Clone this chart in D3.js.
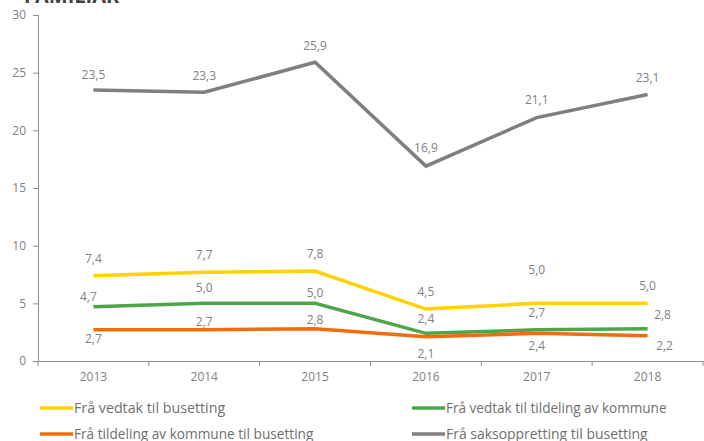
<!DOCTYPE html>
<html>
<head>
<meta charset="utf-8">
<script src="https://cdn.jsdelivr.net/npm/d3@7"></script>
<style>
  body { margin: 0; background: #fff; }
  svg text { font-family: "Open Sans", "DejaVu Sans", sans-serif; }
</style>
</head>
<body>
<div id="d3"></div>
<script>
// data
var years = ["2013", "2014", "2015", "2016", "2017", "2018"];
var seriesNames = [
  "Frå vedtak til busetting",
  "Frå vedtak til tildeling av kommune",
  "Frå tildeling av kommune til busetting",
  "Frå saksoppretting til busetting"
];
var vedtakBusetting = [7.4, 7.7, 7.8, 4.5, 5.0, 5.0];
var vedtakTildeling = [4.7, 5.0, 5.0, 2.4, 2.7, 2.8];
var tildelingBusetting = [2.7, 2.7, 2.8, 2.1, 2.4, 2.2];
var saksBusetting = [23.5, 23.3, 25.9, 16.9, 21.1, 23.1];
var yTicks = [0, 5, 10, 15, 20, 25, 30];

var colors = ["#ffd200", "#4ea54a", "#f26c0d", "#7f7f7f"];
// label placement per point [dx, dy] relative to the point
var labelOffsets = [
  [[0, -17], [0, -17], [0, -17], [0, -17], [0, -34], [0, -18]],
  [[-5, -10], [0, -16], [0, -11], [0, -15], [0, -17], [15, -14]],
  [[0, 9], [0, -8], [0, -9], [0, 17], [0, 12], [17, 10]],
  [[0, -15], [0, -16], [0, -16], [0, -18], [0, -18], [0, -17]]
];

var series = [vedtakBusetting, vedtakTildeling, tildelingBusetting, saksBusetting].map(function(vals, i) {
  return { name: seriesNames[i], values: vals, color: colors[i], offsets: labelOffsets[i] };
});

var svg_width = 704, svg_height = 441;
var svg = d3.select("#d3").append("svg")
  .attr("width", svg_width)
  .attr("height", svg_height);

var margin = {left: 38, right: 1, top: 15, bottom: 80};

var x = d3.scaleBand()
  .domain(years)
  .range([margin.left, svg_width - margin.right]);

var y = d3.scaleLinear()
  .domain([0, 30])
  .range([svg_height - margin.bottom, margin.top]);

var fmt = function(v) { return d3.format(".1f")(v).replace(".", ","); };
var axisColor = "#8c8c8c", textColor = "#7f7f7f";

// cut-off title
svg.append("text")
  .attr("x", 24)
  .attr("y", 3)
  .attr("font-size", "20px")
  .attr("font-weight", "bold")
  .attr("fill", "#404040")
  .text("FAMILIAR");

// y-axis
var yAxis = svg.append("g")
  .attr("transform", "translate(" + margin.left + ",0)")
  .call(d3.axisLeft(y).tickValues(yTicks).tickSize(5).tickPadding(7).tickFormat(d3.format("d")));
yAxis.select(".domain").attr("stroke", axisColor);
yAxis.selectAll(".tick line").attr("stroke", axisColor);
yAxis.selectAll(".tick text").attr("fill", textColor).attr("font-size", "12px");

// x-axis, ticks between categories
var xAxis = svg.append("g")
  .attr("transform", "translate(0," + y(0) + ")")
  .call(d3.axisBottom(x).tickSize(0).tickPadding(11).tickSizeOuter(0));
xAxis.select(".domain").attr("stroke", axisColor);
xAxis.selectAll(".tick text").attr("fill", textColor).attr("font-size", "12px");
var bounds = years.map(function(d) { return x(d); }).concat([x.range()[1]]);
xAxis.selectAll(".sep")
  .data(bounds)
  .enter().append("line")
  .attr("class", "sep")
  .attr("x1", function(d) { return d; })
  .attr("x2", function(d) { return d; })
  .attr("y1", 0)
  .attr("y2", 5)
  .attr("stroke", axisColor);

var cx = function(d, i) { return x(years[i]) + x.bandwidth() / 2; };
var line = d3.line()
  .x(cx)
  .y(function(d) { return y(d); });

// lines (gray drawn last)
var groups = svg.append("g").selectAll("g")
  .data(series)
  .enter().append("g");

groups.append("path")
  .attr("d", function(s) { return line(s.values); })
  .attr("fill", "none")
  .attr("stroke", function(s) { return s.color; })
  .attr("stroke-width", 3.5);

// value labels
groups.each(function(s) {
  d3.select(this).selectAll("text")
    .data(s.values)
    .enter().append("text")
    .attr("x", function(d, i) { return cx(d, i) + s.offsets[i][0]; })
    .attr("y", function(d, i) { return y(d) + s.offsets[i][1]; })
    .attr("dy", "0.35em")
    .attr("text-anchor", "middle")
    .attr("font-size", "12px")
    .attr("fill", textColor)
    .text(fmt);
});

// legend
var legendPos = [[40, 408], [412, 408], [40, 434], [412, 434]];
var legend = svg.append("g").selectAll("g")
  .data(series)
  .enter().append("g")
  .attr("transform", function(s, i) { return "translate(" + legendPos[i][0] + "," + legendPos[i][1] + ")"; });
legend.append("line")
  .attr("x1", 0).attr("x2", 33)
  .attr("stroke", function(s) { return s.color; })
  .attr("stroke-width", 3.5);
legend.append("text")
  .attr("x", 34)
  .attr("dy", "0.35em")
  .attr("font-size", "14px")
  .attr("fill", "#6f6f6f")
  .attr("textLength", function(s) { return s.name.length * 6.3; })
  .attr("lengthAdjust", "spacingAndGlyphs")
  .text(function(s) { return s.name; });
</script>
</body>
</html>
